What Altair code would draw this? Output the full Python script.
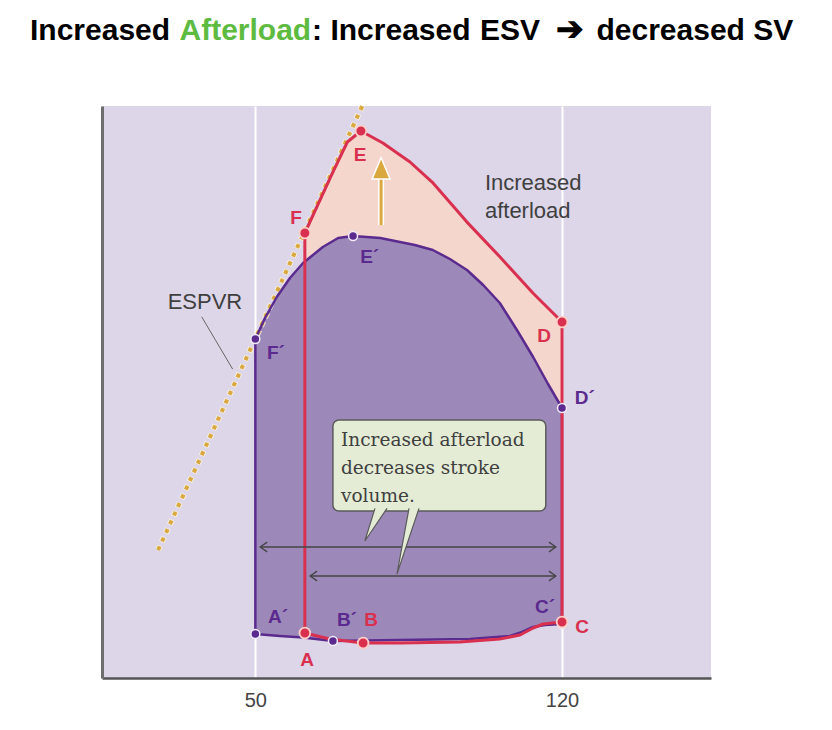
import altair as alt
import pandas as pd

# ---------------------------------------------------------------
# Pressure-volume loops: normal (primed points) and increased afterload
# volume on x (mL), pressure on y (arbitrary units)
# ---------------------------------------------------------------
normal_vol = [50, 55.6, 60.9, 67.7, 83.0, 99.0, 108.1, 110.9, 113.4, 116.1, 120,
              120, 116.8, 113.4, 109.7, 105.8, 102.0, 98.3, 94.4, 90.5, 86.4, 83.0,
              78.5, 72.3, 68.9, 65.4, 60.9, 57.9, 54.9, 52.2, 50]
normal_p = [11, 10.5, 10.1, 9.25, 9.5, 9.75, 10.5, 11.5, 12.75, 13.25, 13.5,
            67.5, 73.5, 80.25, 87, 93.75, 98.25, 102, 104.75, 107, 108.25, 109,
            110, 110.5, 110, 107.75, 103.75, 100, 95.25, 90.0, 84.75]

afterload_vol = [61.3, 67.0, 74.6, 83.0, 96.7, 105.8, 110.4, 113.4, 115.7, 120,
                 120, 118.8, 113.4, 105.8, 98.2, 90.6, 85.3, 79.1, 74.1, 71.0,
                 67.5, 61.3]
afterload_p = [11.25, 9.75, 8.75, 8.75, 9, 9.75, 10.75, 12.5, 13.5, 14,
               89, 90.3, 96.2, 105.3, 114.1, 123.7, 129, 133.75, 136.75, 134.0,
               126.0, 111.25]

# Named points on each loop
normal_names = ["A´", "B´", "C´", "D´", "E´", "F´"]
normal_pt_vol = [50, 67.7, 120, 120, 72.3, 50]
normal_pt_p = [11, 9.25, 13.5, 67.5, 110.5, 84.75]
normal_lbl_vol = [55.2, 70.9, 116.1, 125.2, 76.1, 54.7]
normal_lbl_p = [15.25, 14.5, 17.75, 70, 105.25, 81.25]

afterload_names = ["A", "B", "C", "D", "E", "F"]
afterload_pt_vol = [61.3, 74.6, 120, 120, 74.1, 61.3]
afterload_pt_p = [11.25, 8.75, 14, 89, 136.75, 111.25]
afterload_lbl_vol = [61.8, 76.4, 124.6, 115.9, 73.9, 59.3]
afterload_lbl_p = [4.5, 14.5, 12.75, 85.5, 130.75, 115]

# End-systolic pressure-volume relationship
espvr_vol = [27.8, 74.4]
espvr_p = [32, 143]

# Stroke volume arrows (normal, increased afterload)
sv_start = [51.1, 62.5]
sv_end = [118.6, 118.6]
sv_p = [32.75, 25.5]

# Rise of peak pressure
rise_vol = [78.7]
rise_from = [113.25]
rise_to = [126.0]
rise_head = [127.25]

x_ticks = [50, 120]

# Callout
callout_lines = ["Increased afterload", "decreases stroke", "volume."]
callout_line_p = [58, 51, 44]
callout_vol = [67.7, 116.3]
callout_p = [41.75, 64.5]
callout_text_vol = 69.55
pointer_id = [1, 1, 1, 2, 2, 2]
pointer_vol = [77.3, 75.0, 80.05, 85.07, 82.33, 87.35]
pointer_p = [42.4, 34.25, 42.4, 42.4, 26.0, 42.4]

# ---------------------------------------------------------------
BG = "#dcd6e8"
PURPLE_FILL = "#9d89b9"
PINK = "#f4d6cd"
RED = "#d9304f"
PURPLE = "#5b2a8e"
GOLD = "#d9a83e"
BOX_FILL = "#e4ecd6"
DARK = "#3f3f3f"

XS = alt.Scale(domain=[15, 154], nice=False, zero=False)
YS = alt.Scale(domain=[0, 143], nice=False, zero=False)
XAX = alt.Axis(values=x_ticks, title=None, grid=True, gridColor="#ffffff",
               gridWidth=2, ticks=False, labelFontSize=20, labelColor="#444444",
               labelFont="Liberation Sans", labelPadding=12,
               domainColor="#555555", domainWidth=2.5)
YAX = alt.Axis(title=None, labels=False, ticks=False, grid=False,
               domainColor="#6e6e6e", domainWidth=3)


def X(f):
    return alt.X(f, type="quantitative", scale=XS, axis=XAX)


def Y(f):
    return alt.Y(f, type="quantitative", scale=YS, axis=YAX)


normal_df = pd.DataFrame({"i": range(len(normal_vol)), "vol": normal_vol, "p": normal_p})
after_df = pd.DataFrame({"i": range(len(afterload_vol)), "vol": afterload_vol, "p": afterload_p})


def loop_fill(df, color):
    return alt.Chart(df).mark_line(
        interpolate="linear-closed", fill=color, strokeOpacity=0
    ).encode(X("vol"), Y("p"), order="i:Q", fill=alt.value(color))


def loop_stroke(df, color, width):
    return alt.Chart(df).mark_line(
        interpolate="linear-closed", color=color, strokeWidth=width,
        strokeJoin="round"
    ).encode(X("vol"), Y("p"), order="i:Q")


red_fill = loop_fill(after_df, PINK)
purple_fill = loop_fill(normal_df, PURPLE_FILL)
purple_line = loop_stroke(normal_df, PURPLE, 2.5)
red_line = loop_stroke(after_df, RED, 3)

espvr_df = pd.DataFrame({"vol": espvr_vol, "p": espvr_p})
espvr_halo = alt.Chart(espvr_df).mark_line(
    color="#fbf3de", strokeWidth=6, strokeDash=[5.5, 4], strokeDashOffset=0.75,
    opacity=0.8
).encode(X("vol"), Y("p"))
espvr = alt.Chart(espvr_df).mark_line(
    color=GOLD, strokeWidth=4, strokeDash=[4, 5.5]
).encode(X("vol"), Y("p"))

rise_df = pd.DataFrame({"vol": rise_vol, "p0": rise_from, "p1": rise_to, "ph": rise_head})
rise_halo = alt.Chart(rise_df).mark_rule(color="#ffffff", strokeWidth=6).encode(
    X("vol"), Y("p0"), y2="p1")
rise_shaft = alt.Chart(rise_df).mark_rule(color=GOLD, strokeWidth=3).encode(
    X("vol"), Y("p0"), y2="p1")
rise_tip = alt.Chart(rise_df).mark_point(
    shape="M0,-1.25L1,1.1L-1,1.1Z", filled=True, fill=GOLD, stroke="#ffffff",
    strokeWidth=1.5, size=324, opacity=1
).encode(X("vol"), Y("ph"))

npts = pd.DataFrame({"name": normal_names, "vol": normal_pt_vol, "p": normal_pt_p,
                     "lv": normal_lbl_vol, "lp": normal_lbl_p})
apts = pd.DataFrame({"name": afterload_names, "vol": afterload_pt_vol, "p": afterload_pt_p,
                     "lv": afterload_lbl_vol, "lp": afterload_lbl_p})

purple_dots = alt.Chart(npts).mark_point(
    shape="circle", filled=True, fill=PURPLE, stroke="#f1ecf7", strokeWidth=1.5,
    size=80, opacity=1
).encode(X("vol"), Y("p"))
red_dots = alt.Chart(apts).mark_point(
    shape="circle", filled=True, fill=RED, stroke="#fbd0c8", strokeWidth=1.8,
    size=115, opacity=1
).encode(X("vol"), Y("p"))

purple_lbl = alt.Chart(npts).mark_text(
    font="Liberation Sans", fontWeight="bold", fontSize=19, color=PURPLE,
    align="center", baseline="middle"
).encode(X("lv"), Y("lp"), text="name:N")
red_lbl = alt.Chart(apts).mark_text(
    font="Liberation Sans", fontWeight="bold", fontSize=19, color=RED,
    align="center", baseline="middle"
).encode(X("lv"), Y("lp"), text="name:N")

# Stroke volume double arrows
sv_df = pd.DataFrame({"a": sv_start, "b": sv_end, "p": sv_p})
sv_rule = alt.Chart(sv_df).mark_rule(color="#444444", strokeWidth=1.3).encode(
    X("a"), x2="b", y=Y("p"))
sv_right = alt.Chart(sv_df).mark_point(
    shape="M-1,-0.7L0,0L-1,0.7", filled=False, stroke="#444444", strokeWidth=1.3,
    size=196, opacity=1
).encode(X("b"), Y("p"))
sv_left = alt.Chart(sv_df).mark_point(
    shape="M1,-0.7L0,0L1,0.7", filled=False, stroke="#444444", strokeWidth=1.3,
    size=196, opacity=1
).encode(X("a"), Y("p"))

# Callout box with two pointers
box_df = pd.DataFrame({"v0": [callout_vol[0]], "v1": [callout_vol[1]],
                       "p0": [callout_p[0]], "p1": [callout_p[1]]})
box = alt.Chart(box_df).mark_rect(
    fill=BOX_FILL, stroke="#5a5a5a", strokeWidth=1.5, cornerRadius=6
).encode(X("v0"), x2="v1", y=Y("p0"), y2="p1")
ptr_df = pd.DataFrame({"id": pointer_id, "i": [0, 1, 2] * 2,
                       "vol": pointer_vol, "p": pointer_p})
pointers = alt.Chart(ptr_df).mark_line(
    fill=BOX_FILL, color="#5a5a5a", strokeWidth=1.2, strokeJoin="miter"
).encode(X("vol"), Y("p"), detail="id:N", order="i:Q", fill=alt.value(BOX_FILL))
callout_df = pd.DataFrame({"t": callout_lines, "p": callout_line_p,
                           "vol": [callout_text_vol] * 3})
callout_txt = alt.Chart(callout_df).mark_text(
    font="DejaVu Serif", fontSize=18.5, color=DARK, align="left",
    baseline="alphabetic"
).encode(X("vol"), Y("p"), text="t:N")

# ESPVR label with leader line
espvr_lbl = alt.Chart(pd.DataFrame({"t": ["ESPVR"], "vol": [38.5], "p": [94]})).mark_text(
    font="Liberation Sans", fontSize=22, color=DARK, align="center", baseline="middle"
).encode(X("vol"), Y("p"), text="t:N")
leader = alt.Chart(pd.DataFrame({"vol": [37.75, 44.83], "p": [90.3, 77.2]})).mark_line(
    color="#666666", strokeWidth=1
).encode(X("vol"), Y("p"))

after_txt = alt.Chart(pd.DataFrame({"t": ["Increased", "afterload"],
                                    "vol": [102.4, 102.4], "p": [122, 115]})).mark_text(
    font="Liberation Sans", fontSize=22, color=DARK, align="left", baseline="alphabetic"
).encode(X("vol"), Y("p"), text="t:N")

# Heading in coloured pieces
title_parts = ["Increased", "Afterload", ": Increased", "ESV", "➔", "decreased SV"]
title_colors = ["#000000", "#5dbb3f", "#000000", "#000000", "#000000", "#000000"]
title_sizes = [30, 30, 30, 30, 33, 30]
title_x = [-72, 77.5, 210.1, 378, 454, 494.5]
title_layers = [
    alt.Chart(pd.DataFrame({"t": [txt]})).mark_text(
        font="Liberation Sans", fontWeight="bold", fontSize=fs, color=col,
        align="left", baseline="alphabetic"
    ).encode(text="t:N", x=alt.value(xx), y=alt.value(-66.5))
    for txt, col, fs, xx in zip(title_parts, title_colors, title_sizes, title_x)
]

chart = alt.layer(
    red_fill, purple_fill, espvr_halo, espvr, rise_halo, rise_shaft, rise_tip,
    purple_line, red_line, purple_dots, red_dots, purple_lbl, red_lbl,
    sv_rule, sv_right, sv_left, box, pointers, callout_txt,
    leader, espvr_lbl, after_txt, *title_layers
).properties(
    width=609, height=572,
    autosize=alt.AutoSizeParams(type="none"),
    padding={"left": 102, "top": 106, "right": 121, "bottom": 52},
    background="#ffffff"
).configure_view(fill=BG, stroke=None)

chart.save("out.html", embed_options={"renderer": "svg", "actions": False})
